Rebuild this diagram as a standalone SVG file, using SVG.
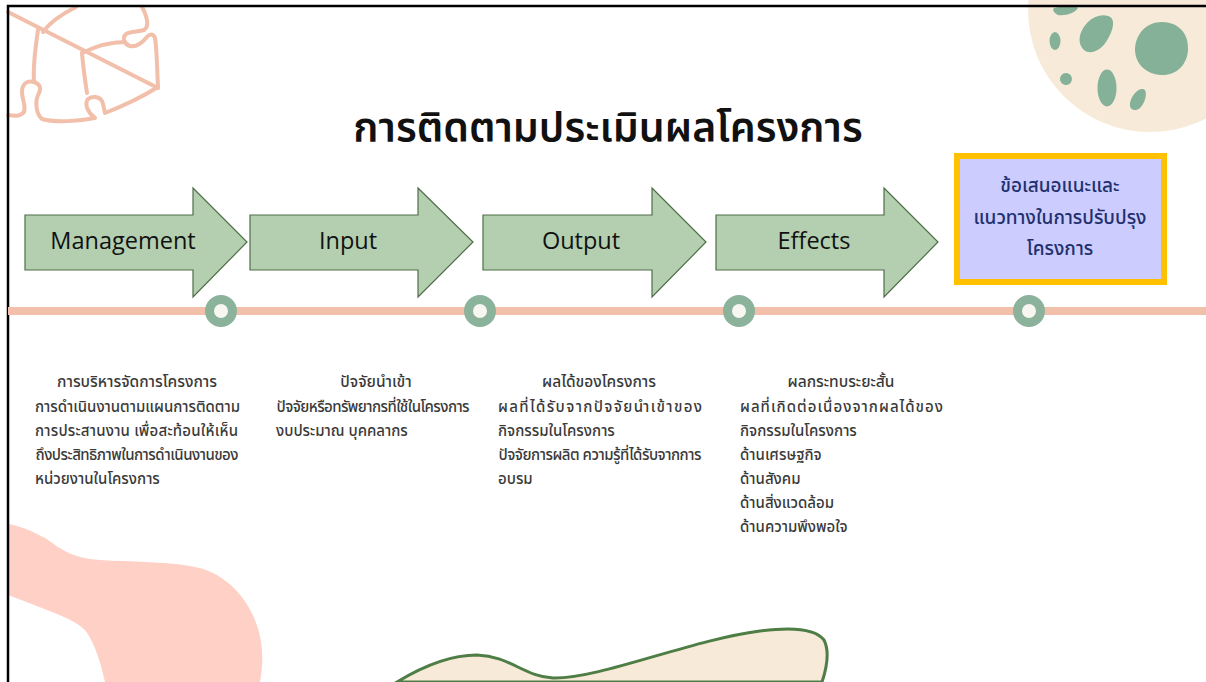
<svg xmlns="http://www.w3.org/2000/svg" width="1206" height="682" viewBox="0 0 1206 682">
  <style>
    .thai { font-family: "Noto Sans Thai", "Leelawadee UI", Tahoma, "DejaVu Sans", sans-serif; }
    .title { font-size: 41px; font-weight: 600; fill: #111111; }
    .step { fill: #B3CFB0; stroke: #4F6E48; stroke-width: 1.2; }
    .step-label { font-family: "Open Sans", "Noto Sans", sans-serif; font-size: 23.5px; fill: #111111; text-anchor: middle; }
    .dot { fill: #F8F6F0; stroke: #8BB29B; stroke-width: 9; }
    .head { font-size: 15.5px; font-weight: 500; fill: #3A3A3A; text-anchor: middle; }
    .body { font-size: 15px; font-weight: 500; fill: #3A3A3A; }
    .box-label { font-size: 19px; font-weight: 500; fill: #22306E; text-anchor: middle; }
    .blob { fill: #84B197; }
  </style>

  <rect x="0" y="0" width="1206" height="682" fill="#FFFFFF"/>

  <!-- decorative shapes -->
  <g id="deco-moon">
    <circle cx="1150" cy="10" r="122" fill="#F8EAD8"/>
    <path class="blob" d="M1162 22 C1178 22 1189 33 1188 50 C1187 66 1175 76 1161 75 C1146 74 1135 64 1135 49 C1136 33 1147 22 1162 22 Z"/>
    <path class="blob" d="M1108 16 C1116 18 1114 30 1106 42 C1100 51 1090 55 1084 50 C1076 42 1080 30 1088 22 C1094 16 1102 14 1108 16 Z"/>
    <path class="blob" d="M1054 8 C1062 6 1074 5 1078 8 C1075 13 1066 16 1058 15 C1054 13 1052 10 1054 8 Z"/>
    <ellipse class="blob" cx="1055" cy="41" rx="5.5" ry="9"/>
    <ellipse class="blob" cx="1066" cy="79" rx="6" ry="6" transform="rotate(-30 1066 79)"/>
    <ellipse class="blob" cx="1107" cy="88" rx="9.5" ry="18.5"/>
    <path class="blob" d="M1143 89 C1148 90 1146 102 1140 108 C1135 112 1129 110 1130 103 C1131 96 1138 88 1143 89 Z"/>
  </g>

  <g id="deco-puzzle" fill="none" stroke="#F2BFAA" stroke-width="4" stroke-linecap="round" stroke-linejoin="round">
    <path d="M8 12 L158 88"/>
    <path d="M76 7 C62 14 50 22 43 32"/>
    <path d="M38 30 C35 50 33 68 34 82 C27 80 22 84 22 92 C22 100 26 104 24 112 C20 117 14 116 8 115"/>
    <path d="M34 82 C40 84 42 88 38 95 C35 102 36 114 42 119 C55 123 80 121 95 118 C88 113 84 104 88 99 C92 96 99 96 102 101 C104 106 104 110 105 113 C123 106 142 97 158 87"/>
    <path d="M158 87 C157 70 157 50 155 38 C153 33 149 34 146 38 C142 43 136 47 130 46 C124 44 122 38 126 34 C130 31 138 32 144 30 C149 27 148 18 142 7"/>
    <path d="M82 53 C83 66 85 80 87 93"/>
    <path d="M82 53 C94 47 110 42 125 42"/>
  </g>

  <g id="deco-pink">
    <path d="M8 524 C20 526 30 530 45 538 C60 548 70 558 100 560 C130 562 170 561 200 568 C225 575 245 595 255 620 C263 640 264 660 260 682 L105 682 C101 665 96 645 85 630 C75 620 60 615 8 595 Z" fill="#FFD0C6"/>
  </g>

  <g id="deco-hill">
    <path d="M397 682 C420 668 450 655 477 655 C510 656 525 677 553 678 C600 679 690 640 760 631 C790 627 815 628 824 640 C830 652 826 670 822 682 Z" fill="#F8EAD8" stroke="#4E7E45" stroke-width="3"/>
  </g>

  <!-- page frame -->
  <path d="M8 682 V6 H1206" fill="none" stroke="#000000" stroke-width="2.5"/>

  <!-- title -->
  <text class="thai title" x="608" y="142" text-anchor="middle">การติดตามประเมินผลโครงการ</text>

  <!-- timeline -->
  <g id="connectors">
    <line x1="8" y1="311" x2="1206" y2="311" stroke="#F2BFAA" stroke-width="8"/>
    <circle class="dot" cx="221" cy="311" r="11.5"/>
    <circle class="dot" cx="480" cy="311" r="11.5"/>
    <circle class="dot" cx="739" cy="311" r="11.5"/>
    <circle class="dot" cx="1029" cy="311" r="11.5"/>
  </g>

  <!-- process steps -->
  <g id="step-management">
    <path class="step" d="M25 215 H193 V188 L247 242 L193 297 V270 H25 Z"/>
    <text class="step-label" x="123" y="249">Management</text>
  </g>
  <g id="step-input">
    <path class="step" d="M250 215 H418 V188 L473 242 L418 297 V270 H250 Z"/>
    <text class="step-label" x="348" y="249">Input</text>
  </g>
  <g id="step-output">
    <path class="step" d="M483 215 H652 V188 L706 242 L652 297 V270 H483 Z"/>
    <text class="step-label" x="581" y="249">Output</text>
  </g>
  <g id="step-effects">
    <path class="step" d="M716 215 H884 V188 L938 242 L884 297 V270 H716 Z"/>
    <text class="step-label" x="814" y="249">Effects</text>
  </g>

  <g id="step-recommend">
    <rect x="957" y="156" width="207" height="126" fill="#CCCCFF" stroke="#FFC000" stroke-width="6"/>
    <text class="thai box-label" x="1060" y="192">ข้อเสนอแนะและ</text>
    <text class="thai box-label" x="1060" y="224">แนวทางในการปรับปรุง</text>
    <text class="thai box-label" x="1060" y="255">โครงการ</text>
  </g>

  <!-- descriptions -->
  <g id="desc-management" class="thai">
    <text class="head" x="137" y="387">การบริหารจัดการโครงการ</text>
    <text class="body" x="35" y="412" textLength="205" lengthAdjust="spacing">การดำเนินงานตามแผนการติดตาม</text>
    <text class="body" x="35" y="436" textLength="203" lengthAdjust="spacing">การประสานงาน เพื่อสะท้อนให้เห็น</text>
    <text class="body" x="35" y="460" textLength="203" lengthAdjust="spacing">ถึงประสิทธิภาพในการดำเนินงานของ</text>
    <text class="body" x="35" y="484">หน่วยงานในโครงการ</text>
  </g>
  <g id="desc-input" class="thai">
    <text class="head" x="376" y="387">ปัจจัยนำเข้า</text>
    <text class="body" x="276" y="412" textLength="193" lengthAdjust="spacing">ปัจจัยหรือทรัพยากรที่ใช้ในโครงการ</text>
    <text class="body" x="276" y="436">งบประมาณ บุคคลากร</text>
  </g>
  <g id="desc-output" class="thai">
    <text class="head" x="599" y="387">ผลได้ของโครงการ</text>
    <text class="body" x="498" y="412" textLength="204" lengthAdjust="spacing">ผลที่ได้รับจากปัจจัยนำเข้าของ</text>
    <text class="body" x="498" y="436">กิจกรรมในโครงการ</text>
    <text class="body" x="498" y="460" textLength="203" lengthAdjust="spacing">ปัจจัยการผลิต ความรู้ที่ได้รับจากการ</text>
    <text class="body" x="498" y="484">อบรม</text>
  </g>
  <g id="desc-effects" class="thai">
    <text class="head" x="841" y="387">ผลกระทบระยะสั้น</text>
    <text class="body" x="740" y="412" textLength="203" lengthAdjust="spacing">ผลที่เกิดต่อเนื่องจากผลได้ของ</text>
    <text class="body" x="740" y="436">กิจกรรมในโครงการ</text>
    <text class="body" x="740" y="460">ด้านเศรษฐกิจ</text>
    <text class="body" x="740" y="484">ด้านสังคม</text>
    <text class="body" x="740" y="508">ด้านสิ่งแวดล้อม</text>
    <text class="body" x="740" y="532">ด้านความพึงพอใจ</text>
  </g>
</svg>
